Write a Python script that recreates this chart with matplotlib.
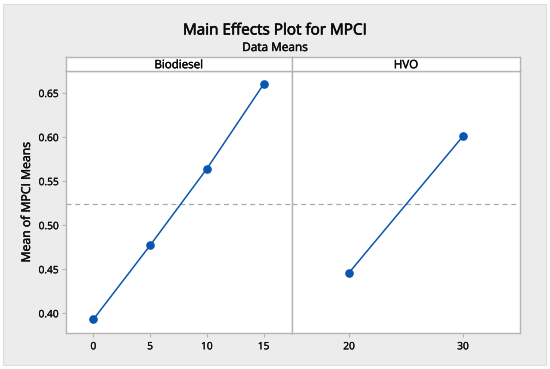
import matplotlib
matplotlib.use("Agg")
import matplotlib.pyplot as plt
import matplotlib.patheffects as pe
from matplotlib.patches import Rectangle

plt.rcParams['font.family'] = ['Open Sans', 'DejaVu Sans']

bio_levels = [0, 5, 10, 15]
bio_means = [0.393, 0.477, 0.564, 0.660]
hvo_levels = [20, 30]
hvo_means = [0.446, 0.601]
overall_mean = 0.5235
yticks = [0.40, 0.45, 0.50, 0.55, 0.60, 0.65]
panel_names = ["Biodiesel", "HVO"]

W, H = 550, 369
fig = plt.figure(figsize=(W/100, H/100), dpi=100)
fig.patch.set_facecolor('white')
fig.patches.append(Rectangle((3/W, 4/H), 543/W, 361/H, transform=fig.transFigure,
                             facecolor='#ececec', edgecolor='#dcdcdc', lw=0.8, zorder=-10))

blue = '#0a55b0'
gridc = '#b4b4b4'
txt = '#0a0a0a'
thick = [pe.withStroke(linewidth=0.45, foreground=txt)]
thin = [pe.withStroke(linewidth=0.3, foreground=txt)]

def ax_rect(x0, x1, y0, y1):
    return [x0/W, 1 - y1/H, (x1-x0)/W, (y1-y0)/H]

left, mid, right = 65.5, 292, 520
top, bot = 71, 333
strip_top = 57

ax1 = fig.add_axes(ax_rect(left, mid, top, bot))
ax2 = fig.add_axes(ax_rect(mid, right, top, bot), sharey=ax1)

ylim = (0.3776, 0.675)
for ax, lv, mn, xl, xt in [(ax1, bio_levels, bio_means, (-2.45, 17.5), [0, 5, 10, 15]),
                           (ax2, hvo_levels, hvo_means, (15, 35), [20, 30])]:
    ax.axhline(overall_mean, color='#a8a8a8', lw=0.9, ls=(0, (4, 3)), zorder=1)
    ax.plot(lv, mn, color=blue, lw=1.1, marker='o', ms=5.2, zorder=3)
    ax.set_xlim(*xl)
    ax.set_ylim(*ylim)
    ax.set_xticks(xt)
    ax.set_xticklabels([str(v) for v in xt])
    for s in ax.spines.values():
        s.set_color(gridc)
        s.set_linewidth(1.0)
    ax.tick_params(axis='x', length=3, color=gridc, labelsize=7.3, pad=3, labelcolor=txt)
    ax.set_facecolor('white')
    for lab in ax.get_xticklabels():
        lab.set_path_effects([pe.withStroke(linewidth=0.2, foreground=txt)])

ax1.set_yticks(yticks)
ax1.set_yticklabels([f"{v:.2f}" for v in yticks])
ax1.tick_params(axis='y', length=3, color=gridc, labelsize=7.3, labelcolor=txt, pad=2)
for lab in ax1.get_yticklabels():
    lab.set_path_effects([pe.withStroke(linewidth=0.2, foreground=txt)])
ax2.tick_params(axis='y', left=False, labelleft=False)
yl = ax1.set_ylabel("Mean of MPCI Means", fontsize=8.8, color=txt, labelpad=4)
yl.set_path_effects(thin)

# strips
for x0, x1, name in [(left, mid, panel_names[0]), (mid, right, panel_names[1])]:
    sax = fig.add_axes(ax_rect(x0, x1, strip_top, top))
    sax.set_xticks([]); sax.set_yticks([])
    sax.set_facecolor('white')
    for s in sax.spines.values():
        s.set_color(gridc); s.set_linewidth(1.0)
    sax.text(0.5, 0.45, name, ha='center', va='center', fontsize=8.3,
             color=txt, transform=sax.transAxes, path_effects=thin)

fig.text(0.5, 1 - 31/H, "Main Effects Plot for MPCI", ha='center', va='center',
         fontsize=11, color=txt, path_effects=thick)
fig.text(0.5, 1 - 47.5/H, "Data Means", ha='center', va='center',
         fontsize=8.5, color=txt, path_effects=thin)

fig.savefig("out.png", dpi=100)
